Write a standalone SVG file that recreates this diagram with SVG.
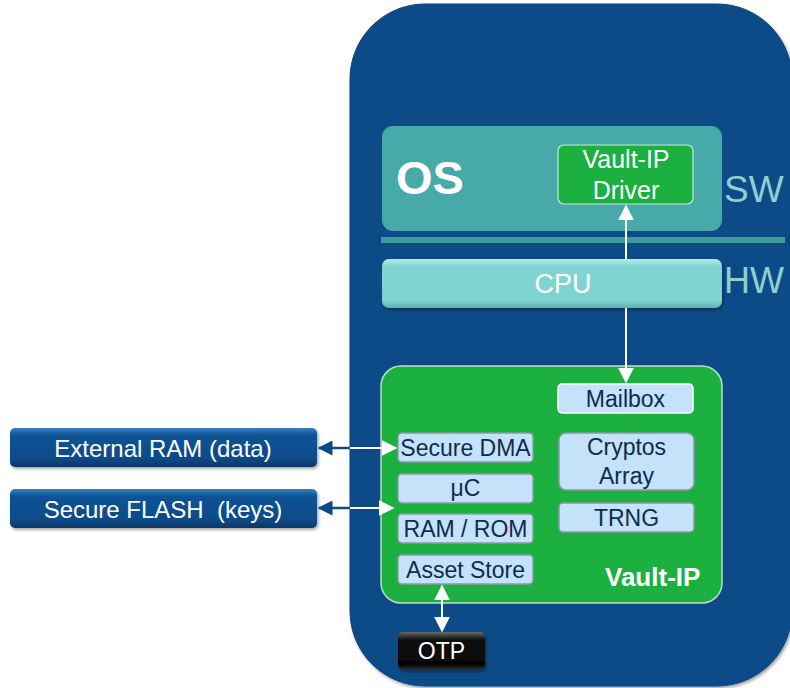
<svg xmlns="http://www.w3.org/2000/svg" width="790" height="688" viewBox="0 0 790 688">
<defs>
<style>
.t{font-family:"Liberation Sans",Arial,sans-serif;}
.wt{fill:#ffffff;}
.dk{fill:#0d2b4e;font-size:23px;text-anchor:middle;}
.sub{fill:#c5e2fb;stroke:#8a98a6;stroke-width:1.5;}
.wl{stroke:#ffffff;stroke-width:2;fill:none;}
.bl{stroke:#0b4a86;stroke-width:2.5;fill:none;}
</style>
<linearGradient id="gCpu" x1="0" y1="0" x2="0" y2="1">
<stop offset="0" stop-color="#b4ecea"/>
<stop offset="0.15" stop-color="#80d5d2"/>
<stop offset="0.85" stop-color="#7dd1ce"/>
<stop offset="1" stop-color="#5eb1ae"/>
</linearGradient>
<linearGradient id="gExt" x1="0" y1="0" x2="0" y2="1">
<stop offset="0" stop-color="#3d7fc0"/>
<stop offset="0.18" stop-color="#0f5496"/>
<stop offset="0.8" stop-color="#0a4a88"/>
<stop offset="1" stop-color="#063664"/>
</linearGradient>
<linearGradient id="gOtp" x1="0" y1="0" x2="0" y2="1">
<stop offset="0" stop-color="#6a6a6a"/>
<stop offset="0.2" stop-color="#111111"/>
<stop offset="0.85" stop-color="#050505"/>
<stop offset="1" stop-color="#333333"/>
</linearGradient>
<filter id="sh" x="-10%" y="-10%" width="130%" height="140%">
<feDropShadow dx="1.5" dy="2" stdDeviation="1.5" flood-color="#000" flood-opacity="0.35"/>
</filter>
<marker id="aw" viewBox="0 0 10 10" refX="9" refY="5" markerWidth="8" markerHeight="8" orient="auto-start-reverse" markerUnits="strokeWidth">
<path d="M0,0 L10,5 L0,10 z" fill="#ffffff"/>
</marker>
<marker id="ab" viewBox="0 0 10 10" refX="9" refY="5" markerWidth="6" markerHeight="6" orient="auto-start-reverse" markerUnits="strokeWidth">
<path d="M0,0 L10,5 L0,10 z" fill="#0b4a86"/>
</marker>
</defs>
<rect width="790" height="688" fill="#ffffff"/>

<g id="panel">
<rect x="350" y="4" width="442" height="682" rx="75" ry="75" fill="#084c88" stroke="#0a447a" stroke-width="1" filter="url(#sh)"/>
</g>

<g id="os">
<rect x="382" y="126" width="340" height="105" rx="11" fill="#47a9a8"/>
<text class="t wt" x="396" y="194" font-size="47" font-weight="bold">OS</text>
</g>
<g id="sw-label"><text class="t" x="724" y="202" font-size="37" fill="#8ed0cf">SW</text></g>
<g id="divider"><rect x="381" y="237" width="404" height="6" fill="#3e9b9a"/></g>

<g id="driver">
<rect x="558" y="145" width="135" height="59" rx="6" fill="#1bb03f" stroke="#c8ecd0" stroke-width="1.2"/>
<text class="t wt" x="626" y="168" font-size="25" text-anchor="middle">Vault-IP</text>
<text class="t wt" x="626" y="199" font-size="25" text-anchor="middle">Driver</text>
</g>

<g id="cpu">
<rect x="382" y="259" width="340" height="49" rx="7" fill="url(#gCpu)" filter="url(#sh)"/>
<text class="t wt" x="563" y="293" font-size="27" text-anchor="middle">CPU</text>
</g>
<g id="hw-label"><text class="t" x="724" y="293" font-size="36" fill="#8ed0cf">HW</text></g>

<g id="vault-ip">
<rect x="381" y="366" width="341" height="237" rx="20" fill="#1cb040" stroke="#c4d9cb" stroke-width="1.5"/>
<text class="t wt" x="605" y="586" font-size="26" font-weight="bold">Vault-IP</text>
</g>

<g id="mailbox">
<rect x="558" y="384" width="135" height="29" rx="4" fill="#c5e2fb" stroke="#ffffff" stroke-width="1.5"/>
<text class="t dk" x="625.5" y="407">Mailbox</text>
</g>
<g id="secure-dma">
<rect class="sub" x="398" y="433" width="135" height="29" rx="4"/>
<text class="t dk" x="465.5" y="456">Secure DMA</text>
</g>
<g id="uc">
<rect class="sub" x="398" y="474" width="135" height="29" rx="4"/>
<text class="t dk" x="465.5" y="496">μC</text>
</g>
<g id="ram-rom">
<rect class="sub" x="398" y="514" width="135" height="29" rx="4"/>
<text class="t dk" x="465.5" y="537">RAM / ROM</text>
</g>
<g id="asset-store">
<rect class="sub" x="398" y="555" width="135" height="29" rx="4"/>
<text class="t dk" x="465.5" y="578">Asset Store</text>
</g>
<g id="cryptos">
<rect class="sub" x="559" y="433" width="135" height="57" rx="7"/>
<text class="t dk" x="626.5" y="455">Cryptos</text>
<text class="t dk" x="626.5" y="484">Array</text>
</g>
<g id="trng">
<rect class="sub" x="559" y="503" width="135" height="29" rx="4"/>
<text class="t dk" x="626.5" y="526">TRNG</text>
</g>

<g id="ext-ram">
<rect x="10" y="428" width="307" height="39" rx="5" fill="url(#gExt)" filter="url(#sh)"/>
<text class="t wt" x="163" y="457" font-size="24" text-anchor="middle">External RAM (data)</text>
</g>
<g id="sec-flash">
<rect x="10" y="489" width="307" height="39" rx="5" fill="url(#gExt)" filter="url(#sh)"/>
<text class="t wt" x="163" y="518" font-size="24" text-anchor="middle" xml:space="preserve">Secure FLASH  (keys)</text>
</g>

<g id="otp">
<rect x="398" y="632" width="87" height="38" rx="5" fill="url(#gOtp)" filter="url(#sh)"/>
<text class="t wt" x="441.5" y="659" font-size="23" text-anchor="middle">OTP</text>
</g>

<g id="connectors">
<line class="wl" x1="626" y1="259" x2="626" y2="206" marker-end="url(#aw)"/>
<line class="wl" x1="626" y1="308" x2="626" y2="382" marker-end="url(#aw)"/>
<line class="bl" x1="350" y1="448" x2="319" y2="448" marker-end="url(#ab)"/>
<line class="wl" x1="350" y1="448" x2="396" y2="448" marker-end="url(#aw)"/>
<line class="bl" x1="350" y1="508" x2="319" y2="508" marker-end="url(#ab)"/>
<line class="wl" x1="350" y1="508" x2="393" y2="508" marker-end="url(#aw)"/>
<line class="wl" x1="442" y1="586" x2="442" y2="631" marker-start="url(#aw)" marker-end="url(#aw)"/>
</g>
</svg>
